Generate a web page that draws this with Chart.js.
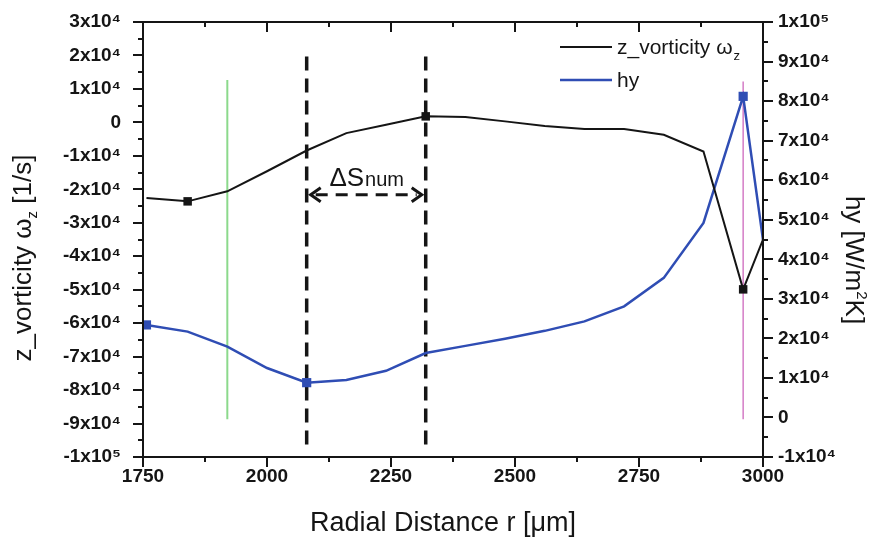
<!DOCTYPE html>
<html><head><meta charset="utf-8">
<script src="https://cdn.jsdelivr.net/npm/chart.js@4.4.1/dist/chart.umd.min.js"></script>
<style>html,body{margin:0;padding:0;background:#fff}canvas{display:block}</style>
</head><body>
<canvas id="c" width="875" height="538"></canvas>
<script>
// ---- data ----
const radialDistance = [1757,1840,1920,2000,2080,2160,2240,2320,2400,2480,2560,2640,2720,2800,2880,2960,3000];
const vorticity      = [-22600,-23600,-20600,-14600,-8400,-3200,-700,1800,1600,300,-1100,-2000,-2000,-3700,-8700,-49900,-35000];
const hy             = [23400,21700,17900,12500,8800,9500,11800,16300,18100,19900,21900,24300,28100,35300,49200,81200,44900];
const vorticityMarkers = [1840,2320,2960];
const hyMarkers        = [1757,2080,2960];
const xTicks     = [1750,3000,250];        // min, max, step
const leftTicks  = [-100000,30000,10000];
const rightTicks = [-10000,100000,10000];
const greenLineR = 1920;
const pinkLineR  = 2960;
const deltaS     = [2080,2320];

const SUP = {'4':'\u2074','5':'\u2075'};
function sci(v){
  if (v === 0) return '0';
  const e = Math.floor(Math.log10(Math.abs(v)) + 1e-9);
  const m = Math.round(v / Math.pow(10, e));
  return m + 'x10' + SUP[String(e)];
}
const FONT = 'Arial, "Liberation Sans", Helvetica, sans-serif';
const tickFont = {family: FONT, size: 19, weight: 'bold'};
const INK = '#151515';
const BLUE = '#2f4db4';

const decor = {
  id: 'decor',
  beforeDatasetsDraw(chart){
    const {ctx, scales:{x, y}} = chart;
    ctx.save();
    ctx.strokeStyle = '#8cd98c'; ctx.lineWidth = 2;
    let px = x.getPixelForValue(greenLineR);
    ctx.beginPath(); ctx.moveTo(px, y.getPixelForValue(12700)); ctx.lineTo(px, y.getPixelForValue(-88700)); ctx.stroke();
    ctx.strokeStyle = '#d47cc6'; ctx.lineWidth = 1.5;
    px = x.getPixelForValue(pinkLineR);
    ctx.beginPath(); ctx.moveTo(px, y.getPixelForValue(12200)); ctx.lineTo(px, y.getPixelForValue(-88700)); ctx.stroke();
    ctx.strokeStyle = INK; ctx.lineWidth = 3.5; ctx.setLineDash([14, 8]);
    deltaS.forEach(r => {
      const p = x.getPixelForValue(r);
      ctx.beginPath(); ctx.moveTo(p, y.getPixelForValue(19700)); ctx.lineTo(p, y.getPixelForValue(-97300)); ctx.stroke();
    });
    const ay = y.getPixelForValue(-21600);
    const x1 = x.getPixelForValue(deltaS[0]) + 3, x2 = x.getPixelForValue(deltaS[1]) - 3;
    ctx.lineWidth = 3; ctx.setLineDash([12, 8]);
    ctx.beginPath(); ctx.moveTo(x1 + 6, ay); ctx.lineTo(x2 - 6, ay); ctx.stroke();
    ctx.setLineDash([]); ctx.lineWidth = 3;
    ctx.beginPath(); ctx.moveTo(x1 + 11, ay - 7); ctx.lineTo(x1 + 1, ay); ctx.lineTo(x1 + 11, ay + 7); ctx.stroke();
    ctx.beginPath(); ctx.moveTo(x2 - 11, ay - 7); ctx.lineTo(x2 - 1, ay); ctx.lineTo(x2 - 11, ay + 7); ctx.stroke();
    ctx.fillStyle = INK; ctx.textBaseline = 'alphabetic';
    ctx.font = '26px ' + FONT;
    const w1 = ctx.measureText('\u0394S').width;
    ctx.font = '20px ' + FONT;
    const w2 = ctx.measureText('num').width;
    const cx = (x1 + x2) / 2, by = ay - 9;
    let sx = cx - (w1 + w2) / 2;
    ctx.font = '26px ' + FONT; ctx.textAlign = 'left';
    ctx.fillText('\u0394S', sx, by);
    ctx.font = '20px ' + FONT;
    ctx.fillText('num', sx + w1 + 1, by);
    ctx.restore();
  },
  afterDraw(chart){
    const {ctx, chartArea:a, scales:{x, y, y2}} = chart;
    ctx.save();
    ctx.strokeStyle = INK; ctx.lineWidth = 2;
    ctx.strokeRect(a.left, a.top, a.right - a.left, a.bottom - a.top);
    ctx.beginPath();
    for (let v = leftTicks[0]; v <= leftTicks[1]; v += leftTicks[2] / 2){
      const p = Math.round(y.getPixelForValue(v));
      const L = (v % leftTicks[2] === 0) ? 10 : 5;
      ctx.moveTo(a.left, p); ctx.lineTo(a.left - L, p);
    }
    for (let v = rightTicks[0]; v <= rightTicks[1]; v += rightTicks[2] / 2){
      const p = Math.round(y2.getPixelForValue(v));
      const L = (v % rightTicks[2] === 0) ? 10 : 5;
      ctx.moveTo(a.right, p); ctx.lineTo(a.right + L, p);
    }
    for (let v = xTicks[0]; v <= xTicks[1]; v += xTicks[2] / 2){
      const p = Math.round(x.getPixelForValue(v));
      const major = ((v - xTicks[0]) % xTicks[2] === 0);
      ctx.moveTo(p, a.bottom); ctx.lineTo(p, a.bottom + (major ? 10 : 5));
      ctx.moveTo(p, a.top); ctx.lineTo(p, a.top + (major ? 10 : 5));
    }
    ctx.stroke();

    ctx.fillStyle = INK; ctx.textBaseline = 'alphabetic';
    ctx.font = '27px ' + FONT; ctx.textAlign = 'center';
    ctx.fillText('Radial Distance r [\u03bcm]', 443, 531);

    const drawParts = (parts) => {
      let tw = 0;
      parts.forEach(p => { ctx.font = p.size + 'px ' + FONT; p.w = ctx.measureText(p.t).width; tw += p.w; });
      let sx = -tw / 2;
      ctx.textAlign = 'left';
      parts.forEach(p => { ctx.font = p.size + 'px ' + FONT; ctx.fillText(p.t, sx, p.dy); sx += p.w; });
    };
    ctx.save();
    ctx.translate(31, 258); ctx.rotate(-Math.PI / 2);
    drawParts([{t:'z_vorticity \u03c9', size:26, dy:0}, {t:'z', size:15, dy:6}, {t:' [1/s]', size:26, dy:0}]);
    ctx.restore();

    ctx.save();
    ctx.translate(846, 260); ctx.rotate(Math.PI / 2);
    drawParts([{t:'hy [W/m', size:26, dy:0}, {t:'2', size:15, dy:-11}, {t:'K]', size:26, dy:0}]);
    ctx.restore();

    ctx.lineWidth = 2; ctx.strokeStyle = INK;
    ctx.beginPath(); ctx.moveTo(560, 47); ctx.lineTo(612, 47); ctx.stroke();
    ctx.lineWidth = 2.5; ctx.strokeStyle = BLUE;
    ctx.beginPath(); ctx.moveTo(560, 80); ctx.lineTo(612, 80); ctx.stroke();
    ctx.textAlign = 'left';
    ctx.font = '21px ' + FONT;
    const lt = 'z_vorticity \u03c9';
    ctx.fillText(lt, 617, 54);
    const lw = ctx.measureText(lt).width;
    ctx.font = '13px ' + FONT;
    ctx.fillText('z', 617 + lw + 1, 60);
    ctx.font = '21px ' + FONT;
    ctx.fillText('hy', 617, 87);
    ctx.restore();
  }
};

const pts = (ys) => radialDistance.map((r, i) => ({x: r, y: ys[i]}));
const noPadV = s => { s.paddingTop = 0; s.paddingBottom = 0; };
const noPadH = s => { s.paddingLeft = 0; s.paddingRight = 0; };

new Chart(document.getElementById('c'), {
  type: 'line',
  data: {
    datasets: [
      {
        label: 'z_vorticity \u03c9z', data: pts(vorticity), yAxisID: 'y',
        borderColor: INK, borderWidth: 2, tension: 0,
        pointStyle: 'rect', pointBackgroundColor: INK, pointBorderColor: INK, pointBorderWidth: 0,
        pointRadius: c => vorticityMarkers.includes(radialDistance[c.dataIndex]) ? 6 : 0
      },
      {
        label: 'hy', data: pts(hy), yAxisID: 'y2',
        borderColor: BLUE, borderWidth: 2.5, tension: 0,
        pointStyle: 'rect', pointBackgroundColor: BLUE, pointBorderColor: BLUE, pointBorderWidth: 0,
        pointRadius: c => hyMarkers.includes(radialDistance[c.dataIndex]) ? 6.5 : 0
      }
    ]
  },
  options: {
    responsive: false, animation: false, events: [],
    layout: {padding: {top: 22, left: 0, right: 0, bottom: 0}},
    plugins: {legend: {display: false}, tooltip: {enabled: false}, title: {display: false}},
    scales: {
      x: {
        type: 'linear', position: 'bottom', min: xTicks[0], max: xTicks[1],
        ticks: {stepSize: xTicks[2], callback: v => String(v), font: tickFont, color: INK, padding: 8, maxRotation: 0, autoSkip: false},
        grid: {display: false, drawTicks: false}, border: {display: false},
        afterFit(s){ s.height = 81; noPadH(s); }
      },
      y: {
        type: 'linear', position: 'left', min: leftTicks[0], max: leftTicks[1],
        ticks: {stepSize: leftTicks[2], callback: v => sci(v), font: tickFont, color: INK, padding: 22, autoSkip: false},
        grid: {display: false, drawTicks: false}, border: {display: false},
        afterFit(s){ s.width = 143; noPadV(s); }
      },
      y2: {
        type: 'linear', position: 'right', min: rightTicks[0], max: rightTicks[1],
        ticks: {stepSize: rightTicks[2], callback: v => sci(v), font: tickFont, color: INK, padding: 15, autoSkip: false},
        grid: {display: false, drawTicks: false}, border: {display: false},
        afterFit(s){ s.width = 112; noPadV(s); }
      }
    }
  },
  plugins: [decor]
});
</script>
</body></html>
